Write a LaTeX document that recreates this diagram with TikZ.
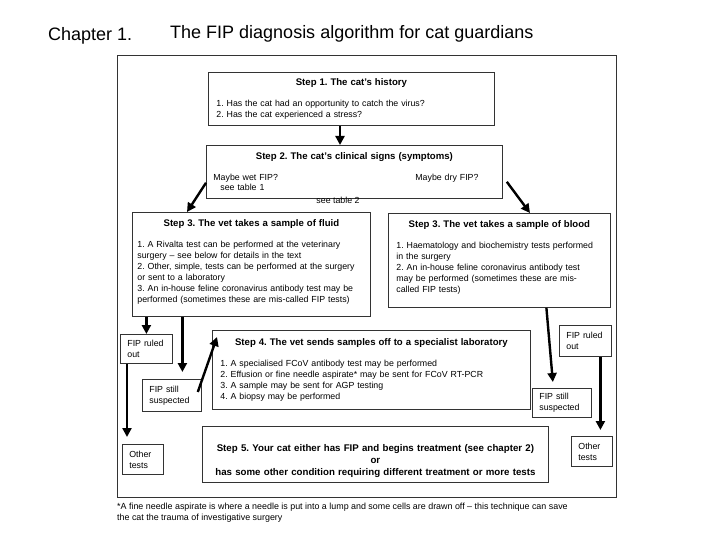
\documentclass[tikz,border=0pt]{standalone}
\usepackage{fontspec}
\setmainfont{Liberation Sans}
\usetikzlibrary{arrows.meta,positioning,calc}
\frenchspacing

\begin{document}
\begin{tikzpicture}[x=1pt,y=-1pt,
stepbox/.style={draw=black!80,line width=0.8pt,anchor=north west,inner ysep=3pt,align=left,font=\fontsize{8.8}{11}\selectfont},
smallbox/.style={draw=black!80,line width=0.8pt,anchor=north west,inner xsep=7pt,inner ysep=2pt,align=left,font=\fontsize{8.8}{11}\selectfont},
note/.style={font=\fontsize{8.8}{11}\selectfont,inner sep=0pt},
arr/.style={-{Triangle[length=9pt,width=9pt]},line width=2.4pt}]
\useasboundingbox (0,0) rectangle (720,540);
\newcommand{\hd}[1]{\makebox[\linewidth]{\fontsize{9.6}{11}\selectfont\bfseries #1}}
% headings
\node[font=\fontsize{18}{20}\selectfont,anchor=west,inner sep=0pt] (chap) at (48,36) {Chapter 1.};
\node[font=\fontsize{18}{20}\selectfont,anchor=west,inner sep=0pt] (ttl) at (170,34) {The FIP diagnosis algorithm for cat guardians};
\node[draw=black!80,line width=0.8pt,anchor=north west,minimum width=499pt,minimum height=442pt] (frame) at (117,55) {};
% steps
\node[stepbox,inner xsep=8pt,text width=270pt,minimum height=53pt] (s1) at (208,72)
  {\hd{Step 1. The cat's history}\\[10pt]
   1. Has the cat had an opportunity to catch the virus?\\
   2. Has the cat experienced a stress?};
\node[stepbox,inner xsep=7pt,text width=282pt,minimum height=53pt] (s2) at (206,145)
  {\hd{Step 2. The cat's clinical signs (symptoms)}\\[10pt]
   \makebox[202pt][l]{Maybe wet FIP?}Maybe dry FIP?\\[-1pt]
   \hspace*{7pt}see table 1};
\node[note] (tab2) at (338,200) {see table 2};
\node[stepbox,inner xsep=5pt,text width=228pt,minimum height=104pt] (fl) at (132,212)
  {\hd{Step 3. The vet takes a sample of fluid}\\[10pt]
   1. A Rivalta test can be performed at the veterinary\\
   surgery -- see below for details in the text\\
   2. Other, simple, tests can be performed at the surgery\\
   or sent to a laboratory\\
   3. An in-house feline coronavirus antibody test may be\\
   performed (sometimes these are mis-called FIP tests)\rule[-6pt]{0pt}{6pt}};
\node[stepbox,inner xsep=8pt,text width=206pt,minimum height=94pt] (bl) at (388,213)
  {\hd{Step 3. The vet takes a sample of blood}\\[10pt]
   1. Haematology and biochemistry tests performed\\
   in the surgery\\
   2. An in-house feline coronavirus antibody test\\
   may be performed (sometimes these are mis-\\
   called FIP tests)\rule[-7pt]{0pt}{7pt}};
\node[stepbox,inner xsep=8pt,text width=302pt,minimum height=79pt] (s4) at (212,330)
  {\hd{Step 4. The vet sends samples off to a specialist laboratory}\\[10pt]
   1. A specialised FCoV antibody test may be performed\\
   2. Effusion or fine needle aspirate* may be sent for FCoV RT-PCR\\
   3. A sample may be sent for AGP testing\\
   4. A biopsy may be performed};
\node[stepbox,inner xsep=6pt,text width=334pt,minimum height=56pt,align=center,font=\fontsize{9.7}{12}\selectfont\bfseries] (s5) at (202,426)
  {\rule{0pt}{20pt}Step 5. Your cat either has FIP and begins treatment (see chapter 2)\\
   or\\
   has some other condition requiring different treatment or more tests};
% outcomes
\node[smallbox,text width=38pt,minimum height=29pt] (rl) at (120,334) {FIP ruled\\out};
\node[smallbox,text width=45pt,minimum height=32pt] (sl) at (142,379) {FIP still\\suspected};
\node[smallbox,text width=38pt,minimum height=31pt] (rr) at (559,325) {FIP ruled\\out};
\node[smallbox,text width=45pt,minimum height=29pt] (sr) at (532,388) {FIP still\\suspected};
\node[smallbox,text width=27pt,minimum height=30pt] (ol) at (122,444) {Other\\tests};
\node[smallbox,text width=27pt,minimum height=30pt] (or) at (571,436) {Other\\tests};
\node[note,anchor=north west,align=left,font=\fontsize{8.9}{11}\selectfont] (foot) at (117,503)
  {*A fine needle aspirate is where a needle is put into a lump and some cells are drawn off -- this technique can save\\
   the cat the trauma of investigative surgery};
% arrows
\coordinate (slin) at ($(sl.north)+(10.5,0)$);
\coordinate (rlout) at ($(rl.south west)+(7,0)$);
\coordinate (rrout) at ($(rr.south)+(15,0)$);
\draw[arr] (s1.south -| 340,0) -- (s2.north -| 340,0);
\draw[arr] ([yshift=16pt]s2.south west) -- ([xshift=55pt]fl.north west);
\draw[arr] ([xshift=4pt,yshift=17pt]s2.south east) -- ([xshift=142pt]bl.north west);
\draw[arr] (fl.south -| rl.north) -- (rl.north);
\draw[arr,shorten >=7pt] (fl.south -| slin) -- (slin);
\draw[arr] ([xshift=-4pt,yshift=-13pt]sl.north east) -- ([xshift=5pt,yshift=-7pt]s4.north west);
\draw[arr,shorten >=6pt] ([xshift=47pt]bl.south) -- ([xshift=-8.5pt]sr.north);
\draw[arr,shorten >=6pt] (rrout) -- (rrout |- or.north);
\draw[arr,shorten >=7pt] (rlout) -- (rlout |- ol.north);
\end{tikzpicture}
\end{document}
